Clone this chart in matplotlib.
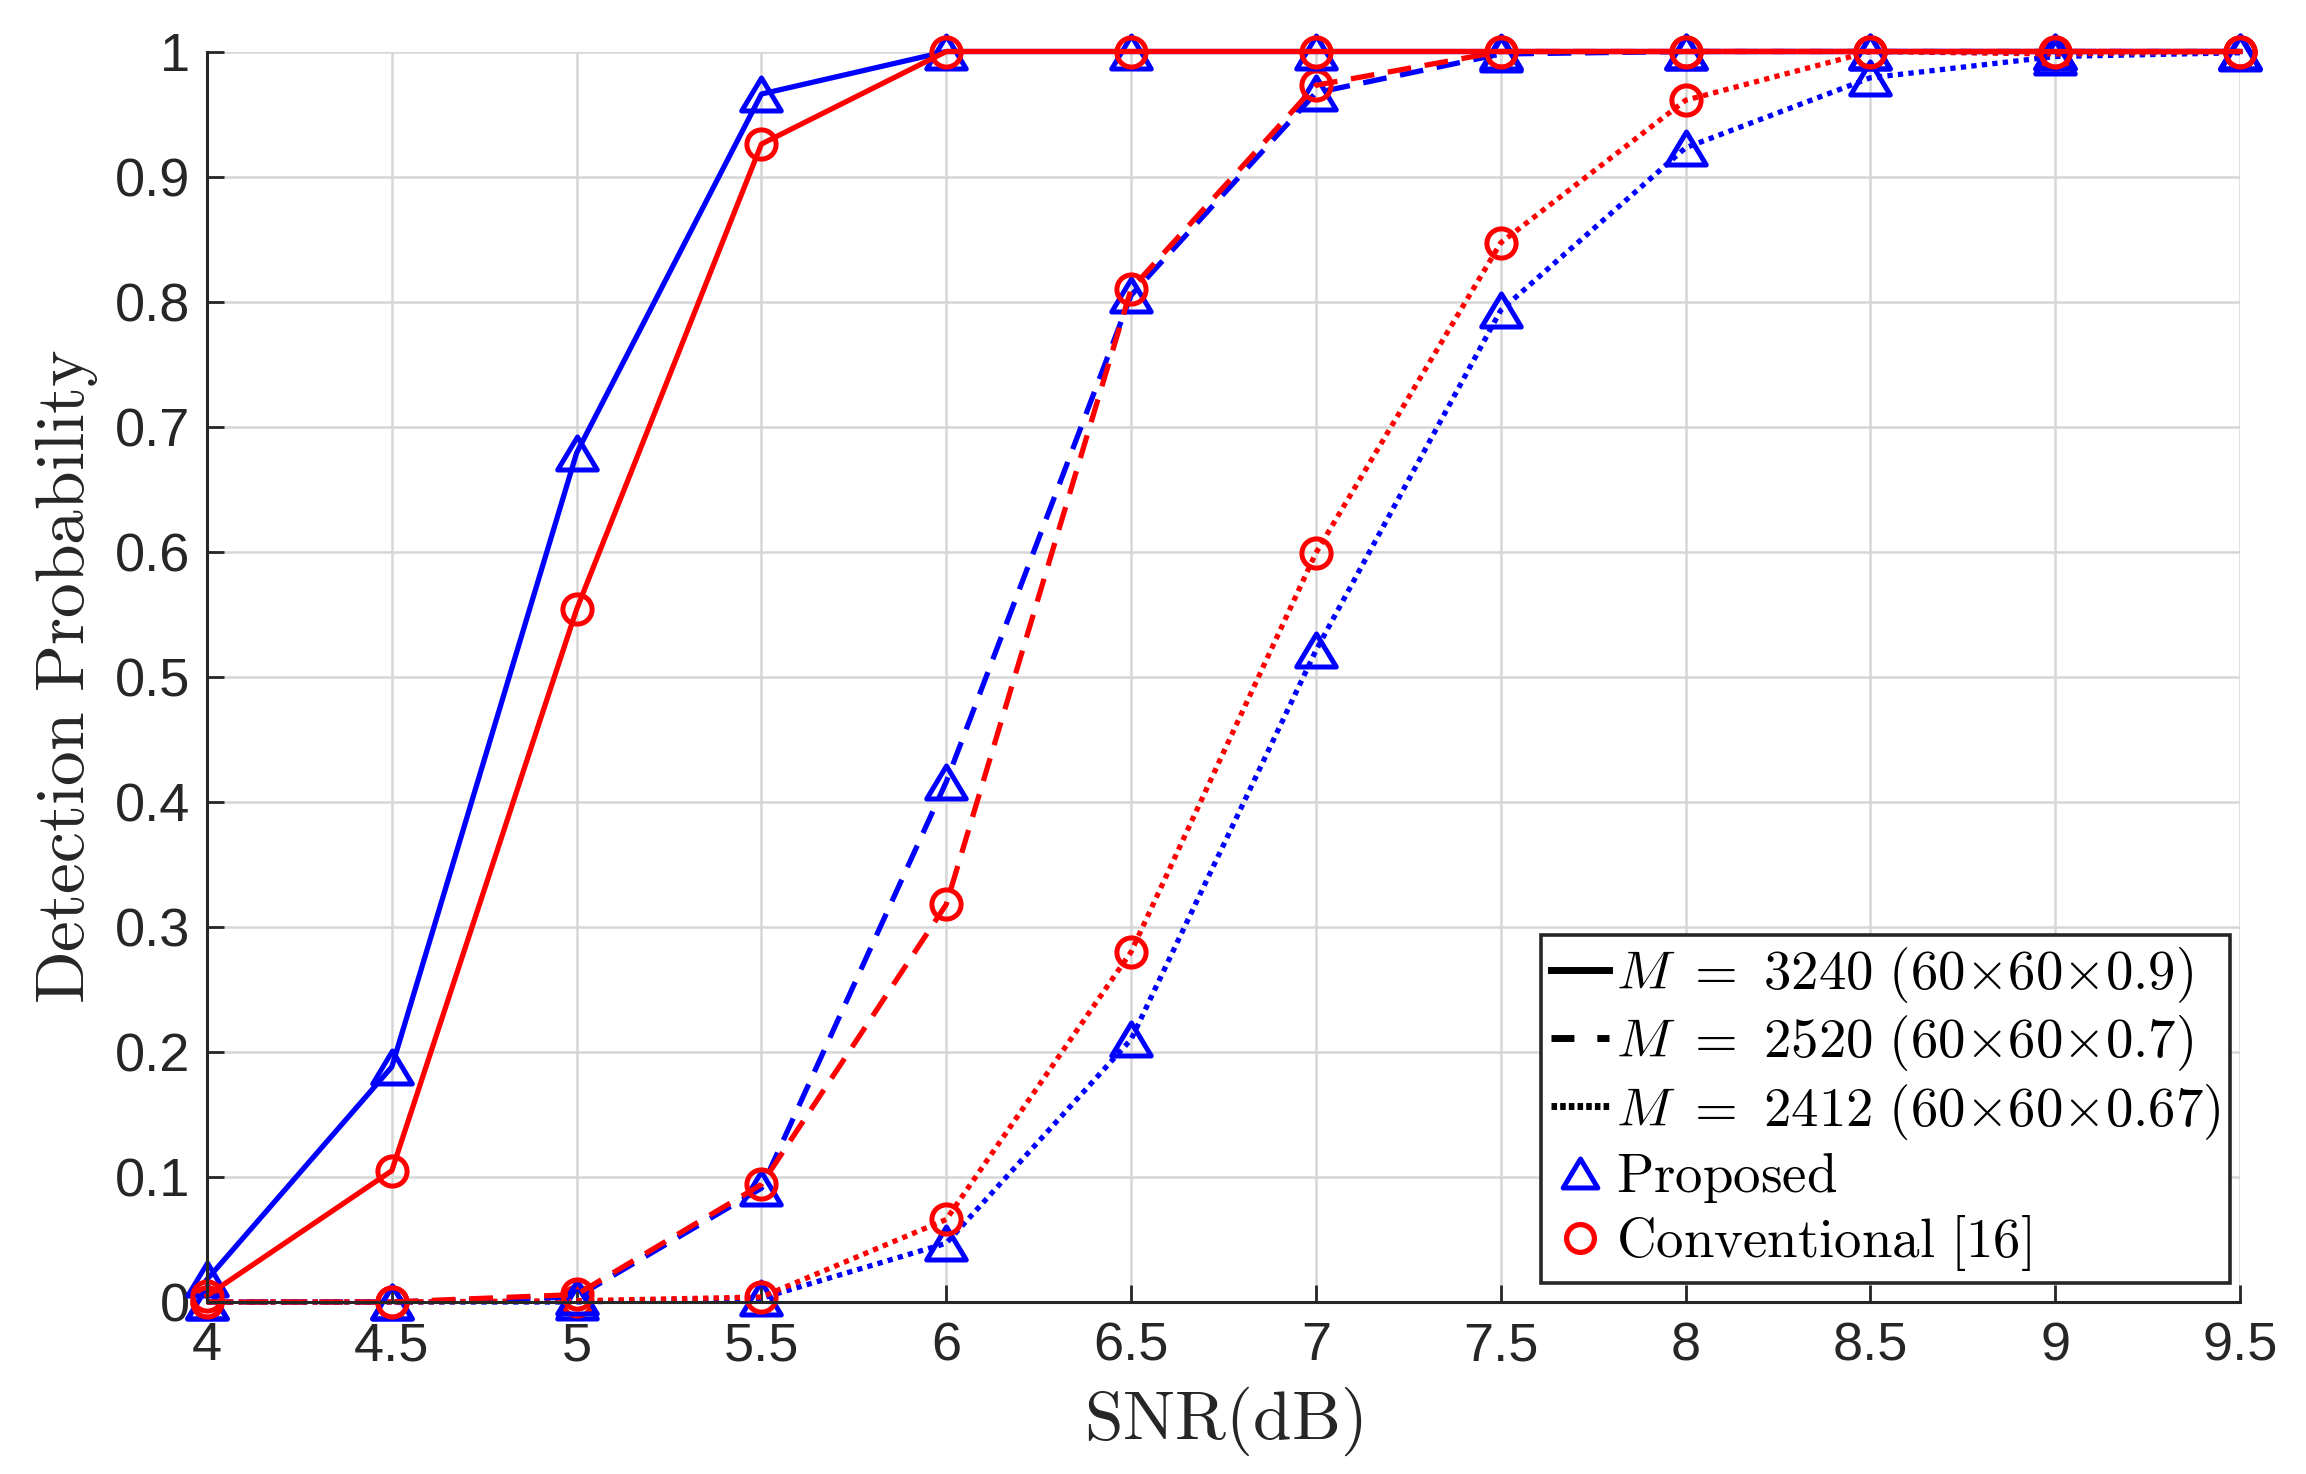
import matplotlib
matplotlib.use("Agg")
import matplotlib.pyplot as plt
from matplotlib.lines import Line2D
from matplotlib.path import Path

snr = [4, 4.5, 5, 5.5, 6, 6.5, 7, 7.5, 8, 8.5, 9, 9.5]
prop_3240 = [0.018, 0.188, 0.679, 0.966, 1, 1, 1, 1, 1, 1, 1, 1]
conv_3240 = [0.005, 0.105, 0.554, 0.926, 1, 1, 1, 1, 1, 1, 1, 1]
prop_2520 = [0, 0, 0.004, 0.091, 0.416, 0.805, 0.967, 0.998, 1, 1, 1, 1]
conv_2520 = [0, 0, 0.006, 0.094, 0.318, 0.810, 0.973, 1, 1, 1, 1, 1]
prop_2412 = [0, 0, 0, 0.003, 0.047, 0.210, 0.521, 0.793, 0.923, 0.979, 0.996, 0.999]
conv_2412 = [0, 0, 0.001, 0.004, 0.066, 0.280, 0.599, 0.847, 0.961, 1.0, 0.998, 1.0]

xticks = [4, 4.5, 5, 5.5, 6, 6.5, 7, 7.5, 8, 8.5, 9, 9.5]
xticklabels = ["4", "4.5", "5", "5.5", "6", "6.5", "7", "7.5", "8", "8.5", "9", "9.5"]
yticks = [0, 0.1, 0.2, 0.3, 0.4, 0.5, 0.6, 0.7, 0.8, 0.9, 1]
yticklabels = ["0", "0.1", "0.2", "0.3", "0.4", "0.5", "0.6", "0.7", "0.8", "0.9", "1"]

legend_labels = [r"$M\ =\ 3240\ (60{\times}60{\times}0.9)$",
                 r"$M\ =\ 2520\ (60{\times}60{\times}0.7)$",
                 r"$M\ =\ 2412\ (60{\times}60{\times}0.67)$",
                 r"$\mathrm{Proposed}$",
                 r"$\mathrm{Conventional\ [16]}$"]

plt.rcParams["mathtext.fontset"] = "cm"
plt.rcParams["font.family"] = ["Liberation Sans", "DejaVu Sans"]

W, H = 2306, 1474
fig = plt.figure(figsize=(W / 100, H / 100), dpi=100)
L, R, T, B = 207, 2240, 51.5, 1302
ax = fig.add_axes([L / W, 1 - B / H, (R - L) / W, (B - T) / H])

tri = Path([(-1.2, -1.0), (1.2, -1.0), (0.0, 1.0), (-1.2, -1.0)],
           [Path.MOVETO, Path.LINETO, Path.LINETO, Path.CLOSEPOLY])

blue, red = (0, 0, 1), (1, 0, 0)
lw = 3.8
tri_kw = dict(marker=tri, markersize=28.5, markerfacecolor="none", markeredgewidth=3.6, clip_on=False)
cir_kw = dict(marker="o", markersize=21, markerfacecolor="none", markeredgewidth=3.6, clip_on=False)
dotted = (0, (1, 1))
dashed = (0, (4.5, 2.6))

ax.plot(snr, prop_2412, color=blue, lw=lw, linestyle=dotted, markeredgecolor=blue, **tri_kw)
ax.plot(snr, conv_2412, color=red, lw=lw, linestyle=dotted, markeredgecolor=red, **cir_kw)
ax.plot(snr, prop_2520, color=blue, lw=lw, linestyle=dashed, markeredgecolor=blue, **tri_kw)
ax.plot(snr, conv_2520, color=red, lw=lw, linestyle=dashed, markeredgecolor=red, **cir_kw)
ax.plot(snr, prop_3240, color=blue, lw=lw, linestyle="-", markeredgecolor=blue, **tri_kw)
ax.plot(snr, conv_3240, color=red, lw=lw, linestyle="-", markeredgecolor=red, **cir_kw)

ax.set_xlim(4, 9.5)
ax.set_ylim(0, 1)
ax.set_xticks(xticks)
ax.set_xticklabels(xticklabels)
ax.set_yticks(yticks)
ax.set_yticklabels(yticklabels)

dark = "#262626"
for s in ["top", "right"]:
    ax.spines[s].set_visible(False)
for s in ["left", "bottom"]:
    ax.spines[s].set_color(dark)
    ax.spines[s].set_linewidth(2.2)
ax.tick_params(axis="both", direction="in", length=12, width=2.0, color=dark,
               labelcolor=dark, labelsize=39)
ax.tick_params(axis="x", pad=14)
ax.tick_params(axis="y", pad=12)
ax.grid(True, color="#d6d6d6", linewidth=1.8)
ax.set_axisbelow(True)

ax.set_xlabel(r"$\mathrm{SNR(dB)}$", fontsize=50, color=dark)
ax.xaxis.label.set_va("center")
ax.xaxis.set_label_coords(0.5, -0.0955)
ax.set_ylabel(r"$\mathrm{Detection\ Probability}$", fontsize=50, color=dark)
ax.yaxis.label.set_va("center")
ax.yaxis.set_label_coords(-0.0693, 0.5)

handles = [Line2D([], [], color="k", lw=5, linestyle="-"),
           Line2D([], [], color="k", lw=5, linestyle=(0, (3.3, 3.3))),
           Line2D([], [], color="k", lw=5, linestyle=(0, (0.8, 0.45))),
           Line2D([], [], linestyle="none", marker=tri, markersize=25, markerfacecolor="none",
                  markeredgecolor=blue, markeredgewidth=3.6),
           Line2D([], [], linestyle="none", marker="o", markersize=20, markerfacecolor="none",
                  markeredgecolor=red, markeredgewidth=3.8)]
leg = ax.legend(handles, legend_labels, loc="lower right",
                bbox_to_anchor=((2230 - L) / (R - L), (B - 1283) / (B - T)),
                borderaxespad=0, fontsize=39.5, handlelength=1.05, handletextpad=0.12,
                labelspacing=0.15, borderpad=0.18, fancybox=False, framealpha=1,
                edgecolor=dark)
leg.get_frame().set_linewidth(2.6)
for t in leg.get_texts():
    t.set_color("k")

fig.savefig("out.png", dpi=100, facecolor="white")
